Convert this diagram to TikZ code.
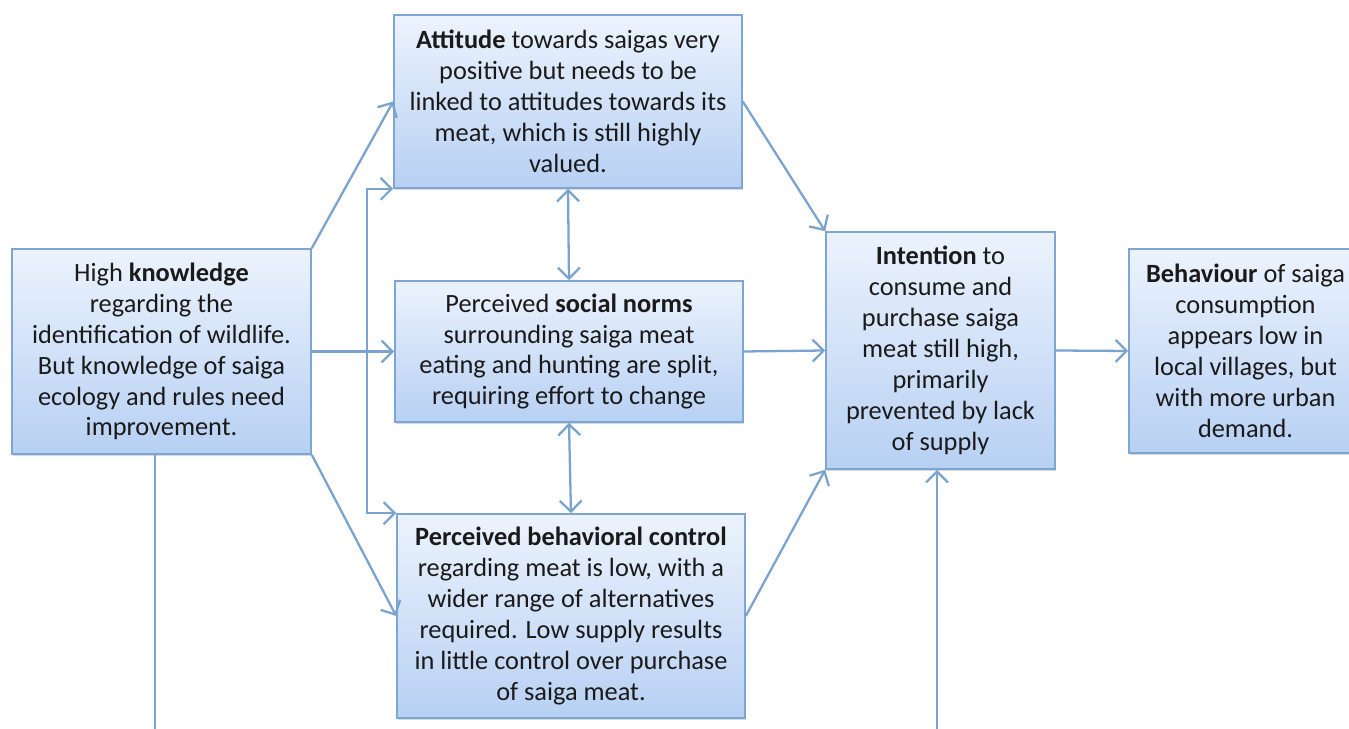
\documentclass[tikz,border=0pt]{standalone}
\usepackage{fontspec}
\setmainfont{Carlito}
\usetikzlibrary{arrows.meta,shadows}
\definecolor{boxline}{HTML}{7EA6D3}
\definecolor{boxtop}{HTML}{ECF3FD}
\definecolor{boxbot}{HTML}{B7D0F3}
\definecolor{linkcol}{HTML}{7BA3CF}
\definecolor{txtcol}{HTML}{1A1A1A}

\begin{document}
\begin{tikzpicture}[
    box/.style={draw=boxline, line width=0.9pt, top color=boxtop, bottom color=boxbot,
      align=center, inner sep=0pt, text=txtcol,
      font=\fontsize{15}{17.6}\selectfont,
      drop shadow={shadow xshift=0.6pt, shadow yshift=-1pt, opacity=0.3}},
    link/.style={draw=linkcol, line width=1.3pt},
    >={Straight Barb[length=2.2mm,width=4.4mm,line width=1.3pt]}
  ]
      \useasboundingbox (0,0) rectangle (26.98,14.58);
      \node[box, minimum width=5.98cm, minimum height=4.10cm] (know) at (3.23,7.55)
        {High \textbf{knowledge}\\regarding the\\identification of wildlife.\\But knowledge of saiga\\ecology and rules need\\improvement.};
      \node[box, minimum width=6.96cm, minimum height=3.46cm] (att) at (11.36,12.55)
        {\textbf{Attitude} towards saigas very\\positive but needs to be\\linked to attitudes towards its\\meat, which is still highly\\valued.};
      \node[box, minimum width=6.96cm, minimum height=2.82cm] (norms) at (11.38,7.55)
        {Perceived \textbf{social norms}\\surrounding saiga meat\\eating and hunting are split,\\requiring effort to change};
      \node[box, minimum width=6.96cm, minimum height=4.08cm] (pbc) at (11.42,2.26)
        {\textbf{Perceived behavioral control}\\regarding meat is low, with a\\wider range of alternatives\\required. Low supply results\\in little control over purchase\\of saiga meat.};
      \node[box, minimum width=4.58cm, minimum height=4.74cm] (int) at (18.81,7.57)
        {\textbf{Intention} to\\consume and\\purchase saiga\\meat still high,\\primarily\\prevented by lack\\of supply};
      \node[box, minimum width=4.66cm, minimum height=4.08cm] (beh) at (24.91,7.56)
        {\textbf{Behaviour} of saiga\\consumption\\appears low in\\local villages, but\\with more urban\\demand.};
      \coordinate (kdown) at (3.1,0);
      \coordinate (iup) at (18.74,0);
      \draw[link,->] (know.north east) -- (att.west);
      \draw[link,->] (know.east) -- (norms.west);
      \draw[link,->] (know.south east) -- (pbc.west);
      \draw[link,<->] (att.south west) -- ++(-0.52,0) |- (pbc.north west);
      \draw[link,<->] (att.south) -- (norms.north);
      \draw[link,<->] (norms.south) -- (pbc.north);
      \draw[link,->] (att.east) -- (int.north west);
      \draw[link,->] (norms.east) -- (int.west);
      \draw[link,->] (pbc.east) -- (int.south west);
      \draw[link,->] (int.east) -- (beh.west);
      \draw[link] (kdown |- know.south) -- (kdown);
      \draw[link,->] (iup) -- (iup |- int.south);
    \end{tikzpicture}
\end{document}
